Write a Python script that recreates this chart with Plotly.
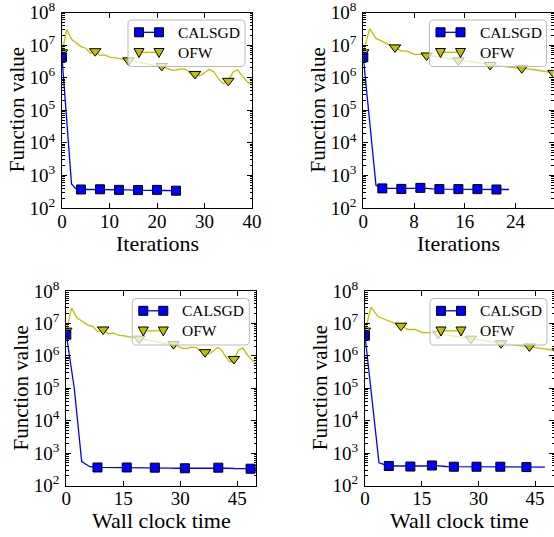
import plotly.graph_objects as go

W, H = 554, 537

# ---------------- data ----------------
# Top-left: iterations (run A)
calsgd_it_a = list(range(0, 25))
calsgd_val_a = [4.2e6, 5e4, 5.5e2, 3.8e2, 3.7e2, 3.7e2, 3.7e2, 3.7e2, 3.75e2, 3.7e2,
                3.65e2, 3.6e2, 3.6e2, 3.65e2, 3.6e2, 3.55e2, 3.55e2, 3.55e2, 3.6e2, 3.6e2,
                3.6e2, 3.5e2, 3.45e2, 3.4e2, 3.4e2]
ofw_it_a = list(range(0, 41))
ofw_val_a = [6e6, 3e7, 1.5e7, 1.15e7, 9e6, 8e6, 5.5e6, 6.5e6, 4.8e6, 5e6,
             4.3e6, 4.1e6, 3.9e6, 3.6e6, 3.4e6, 3.2e6, 3.0e6, 2.8e6, 2.6e6, 2.4e6,
             2.3e6, 2.3e6, 2.0e6, 1.7e6, 1.7e6, 1.85e6, 1.8e6, 1.4e6, 1.3e6, 1.15e6,
             1.4e6, 1.8e6, 1.5e6, 9e5, 6.5e5, 8e5, 1.5e6, 1.75e6, 1.1e6, 7.5e5, 5.8e5]

# Top-right: iterations (run B)
calsgd_it_b = list(range(0, 24))
calsgd_val_b = [4.2e6, 4e4, 5e2, 4e2, 4e2, 3.95e2, 3.85e2, 3.9e2, 4e2, 4.15e2,
                3.95e2, 3.85e2, 3.8e2, 3.8e2, 3.8e2, 3.8e2, 3.8e2, 3.8e2, 3.8e2, 3.8e2,
                3.75e2, 3.7e2, 3.7e2, 3.7e2]
ofw_it_b = list(range(0, 31))
ofw_val_b = [6e6, 3.2e7, 1.6e7, 1.3e7, 1.05e7, 8.5e6, 6.5e6, 6.5e6, 5.2e6, 5.2e6,
             4.8e6, 4.5e6, 4.2e6, 3.9e6, 3.7e6, 3.4e6, 3.2e6, 3.0e6, 2.8e6, 2.6e6,
             2.45e6, 2.35e6, 2.2e6, 2.1e6, 2.0e6, 1.95e6, 1.85e6, 1.75e6, 1.6e6, 1.5e6, 1.4e6]

# Bottom-left: wall clock time (run A)
calsgd_time_a = [0, 2.1, 4.05, 6.2, 8.2, 10.1, 12.0, 14.0, 15.9, 17.7, 19.6, 21.4, 23.3,
                 25.3, 27.2, 29.2, 31.2, 33.4, 35.6, 37.8, 40.0, 42.1, 44.2, 46.3, 48.5, 50.6]
calsgd_tval_a = [4.5e6, 1e5, 5.5e2, 3.8e2, 3.6e2, 3.6e2, 3.6e2, 3.6e2, 3.6e2, 3.6e2,
                 3.55e2, 3.55e2, 3.55e2, 3.5e2, 3.45e2, 3.4e2, 3.4e2, 3.45e2, 3.5e2, 3.5e2,
                 3.55e2, 3.45e2, 3.35e2, 3.3e2, 3.3e2, 3.3e2]
ofw_time_a = [0, 1.4, 2.8, 4.2, 5.6, 7.0, 8.3, 9.7, 11.1, 12.5, 13.9, 15.2, 16.6, 17.9,
              19.2, 20.5, 21.8, 23.1, 24.4, 25.6, 26.9, 28.2, 29.4, 30.6, 31.8, 33.0,
              34.2, 35.4, 36.5, 37.6, 38.7, 39.8, 40.9, 42.0, 43.1, 44.1, 45.3, 46.4,
              47.6, 48.8, 50.0]
ofw_tval_a = ofw_val_a

# Bottom-right: wall clock time (run B)
calsgd_time_b = [0, 1.9, 3.7, 6.3, 8.2, 10.1, 12.0, 13.9, 15.8, 17.7, 19.6, 21.6, 23.5,
                 25.5, 27.5, 29.5, 31.6, 33.7, 35.8, 38.1, 40.4, 42.7, 45.1, 47.6]
calsgd_tval_b = calsgd_val_b
ofw_time_b = [0, 1.6, 3.5, 5.5, 7.5, 9.5, 11.4, 13.3, 15.2, 17.1, 19.4, 21.2, 23.0, 24.8,
              26.4, 28.0, 29.6, 31.2, 32.8, 34.4, 36.0, 37.5, 39.0, 40.5, 42.0, 43.5,
              45.0, 46.5, 48.0, 49.5, 51.0]
ofw_tval_b = ofw_val_b

series_names = ["CALSGD", "OFW"]
y_tickvals = [1e2, 1e3, 1e4, 1e5, 1e6, 1e7, 1e8]
y_ticktext = ["10<sup>%d</sup>" % e for e in range(2, 9)]

panels = [
    dict(cal=(calsgd_it_a, calsgd_val_a, 4), ofw=(ofw_it_a, ofw_val_a, 7),
         xrange=[0, 40], xticks=[0, 10, 20, 30, 40], xtitle="Iterations",
         box=(62, 12.5, 252, 208)),
    dict(cal=(calsgd_it_b, calsgd_val_b, 3), ofw=(ofw_it_b, ofw_val_b, 5),
         xrange=[0, 30], xticks=[0, 8, 16, 24], xtitle="Iterations",
         box=(363.3, 12.5, 553.5, 208)),
    dict(cal=(calsgd_time_a, calsgd_tval_a, 4), ofw=(ofw_time_a, ofw_tval_a, 7),
         xrange=[0, 50], xticks=[0, 15, 30, 45], xtitle="Wall clock time",
         box=(66.3, 291, 256.3, 485.5)),
    dict(cal=(calsgd_time_b, calsgd_tval_b, 3), ofw=(ofw_time_b, ofw_tval_b, 5),
         xrange=[0, 50], xticks=[0, 15, 30, 45], xtitle="Wall clock time",
         box=(365, 291, 554, 485.5)),
]

BLUE = "#0000ff"
OLIVE = "#bfbf00"
FONT = "Liberation Serif"

def fx(px):
    return px / W

def fy(py):
    return 1 - py / H

fig = go.Figure()
shapes = []
annotations = []

for i, p in enumerate(panels):
    n = "" if i == 0 else str(i + 1)
    xa, ya = "x" + n, "y" + n
    x0, y0, x1, y1 = p["box"]
    # OFW first (drawn beneath CALSGD)
    ox, oy, oe = p["ofw"]
    fig.add_trace(go.Scatter(x=ox, y=oy, mode="lines", line=dict(color=OLIVE, width=1.3),
                             xaxis=xa, yaxis=ya, showlegend=False, hoverinfo="skip"))
    fig.add_trace(go.Scatter(x=ox[::oe], y=oy[::oe], mode="markers",
                             marker=dict(symbol="triangle-down", size=10, color=OLIVE,
                                         line=dict(color="black", width=1)),
                             xaxis=xa, yaxis=ya, showlegend=False))
    cx, cy, ce = p["cal"]
    fig.add_trace(go.Scatter(x=cx, y=cy, mode="lines", line=dict(color=BLUE, width=1.3),
                             xaxis=xa, yaxis=ya, showlegend=False, hoverinfo="skip"))
    fig.add_trace(go.Scatter(x=cx[::ce], y=cy[::ce], mode="markers",
                             marker=dict(symbol="square", size=9, color=BLUE,
                                         line=dict(color="black", width=1)),
                             xaxis=xa, yaxis=ya, showlegend=False))

    axis_common = dict(showline=True, linecolor="black", linewidth=1, mirror="allticks",
                       ticks="inside", ticklen=5, tickcolor="black", tickwidth=1,
                       showgrid=False, zeroline=False, automargin=False,
                       ticklabeloverflow="allow",
                       tickfont=dict(family=FONT, size=19, color="black"))
    fig.update_layout({
        "xaxis" + n: dict(axis_common, domain=[fx(x0), min(fx(x1), 1.0)], range=p["xrange"],
                          tickvals=p["xticks"], anchor=ya, ticklabelstandoff=-4),
        "yaxis" + n: dict(axis_common, domain=[fy(y1), fy(y0)], type="log", range=[2, 8],
                          tickvals=y_tickvals, ticktext=y_ticktext, anchor=xa,
                          ticklabelstandoff=2,
                          minor=dict(ticks="inside", ticklen=2.5, tickcolor="black",
                                     tickwidth=0.8, dtick="D1", showgrid=False)),
    })

    # axis titles
    annotations.append(dict(x=fx((x0 + x1) / 2), y=fy(p["box"][3] + 35), xref="paper", yref="paper",
                            text=p["xtitle"], showarrow=False, xanchor="center", yanchor="middle",
                            font=dict(family=FONT, size=22, color="black")))
    annotations.append(dict(x=fx(x0 - 45), y=fy((y0 + y1) / 2), xref="paper", yref="paper",
                            text="Function value", showarrow=False, textangle=-90,
                            xanchor="center", yanchor="middle",
                            font=dict(family=FONT, size=21, color="black")))

    # legend (drawn manually, matplotlib style with two markers per entry)
    lx1 = x1 - 7
    lx0 = lx1 - 117
    ly0 = y0 + 7.5
    ly1 = ly0 + 46.5
    r = 4
    pts = [
        ("M", lx0 + r, ly0), ("L", lx1 - r, ly0), ("Q", lx1, ly0, lx1, ly0 + r),
        ("L", lx1, ly1 - r), ("Q", lx1, ly1, lx1 - r, ly1), ("L", lx0 + r, ly1),
        ("Q", lx0, ly1, lx0, ly1 - r), ("L", lx0, ly0 + r), ("Q", lx0, ly0, lx0 + r, ly0),
    ]
    path = ""
    for seg in pts:
        cmd = seg[0]
        coords = seg[1:]
        s = []
        for k in range(0, len(coords), 2):
            s.append("%.5f,%.5f" % (fx(coords[k]), fy(coords[k + 1])))
        path += cmd + " " + " ".join(s) + " "
    path += "Z"
    shapes.append(dict(type="path", path=path, xref="paper", yref="paper", layer="above",
                       fillcolor="rgba(255,255,255,0.72)", line=dict(color="#b8b8b8", width=1)))
    mxa = lx0 + 11
    mxb = mxa + 20
    rows = [ly0 + 12.3, ly0 + 32.3]
    for j, (name, ry) in enumerate(zip(series_names, rows)):
        col = BLUE if j == 0 else OLIVE
        shapes.append(dict(type="line", xref="paper", yref="paper", layer="above",
                           x0=fx(mxa), x1=fx(mxb), y0=fy(ry), y1=fy(ry),
                           line=dict(color=col, width=1.3)))
        for mx in (mxa, mxb):
            if j == 0:
                s = 4.5
                shapes.append(dict(type="rect", xref="paper", yref="paper", layer="above",
                                   x0=fx(mx - s), x1=fx(mx + s), y0=fy(ry + s), y1=fy(ry - s),
                                   fillcolor=BLUE, line=dict(color="black", width=1)))
            else:
                hw, up, dn = 5, 3.8, 5.2
                tp = "M %.5f,%.5f L %.5f,%.5f L %.5f,%.5f Z" % (
                    fx(mx - hw), fy(ry - up), fx(mx + hw), fy(ry - up), fx(mx), fy(ry + dn))
                shapes.append(dict(type="path", path=tp, xref="paper", yref="paper",
                                   layer="above", fillcolor=OLIVE,
                                   line=dict(color="black", width=1)))
        annotations.append(dict(x=fx(lx0 + 48), y=fy(ry), xref="paper", yref="paper",
                                text=name, showarrow=False, xanchor="left", yanchor="middle",
                                font=dict(family=FONT, size=15.5, color="black")))

fig.update_layout(width=W, height=H, margin=dict(l=0, r=0, t=0, b=0, autoexpand=False),
                  paper_bgcolor="white", plot_bgcolor="white",
                  shapes=shapes, annotations=annotations, showlegend=False)

fig.write_html("out.html")
